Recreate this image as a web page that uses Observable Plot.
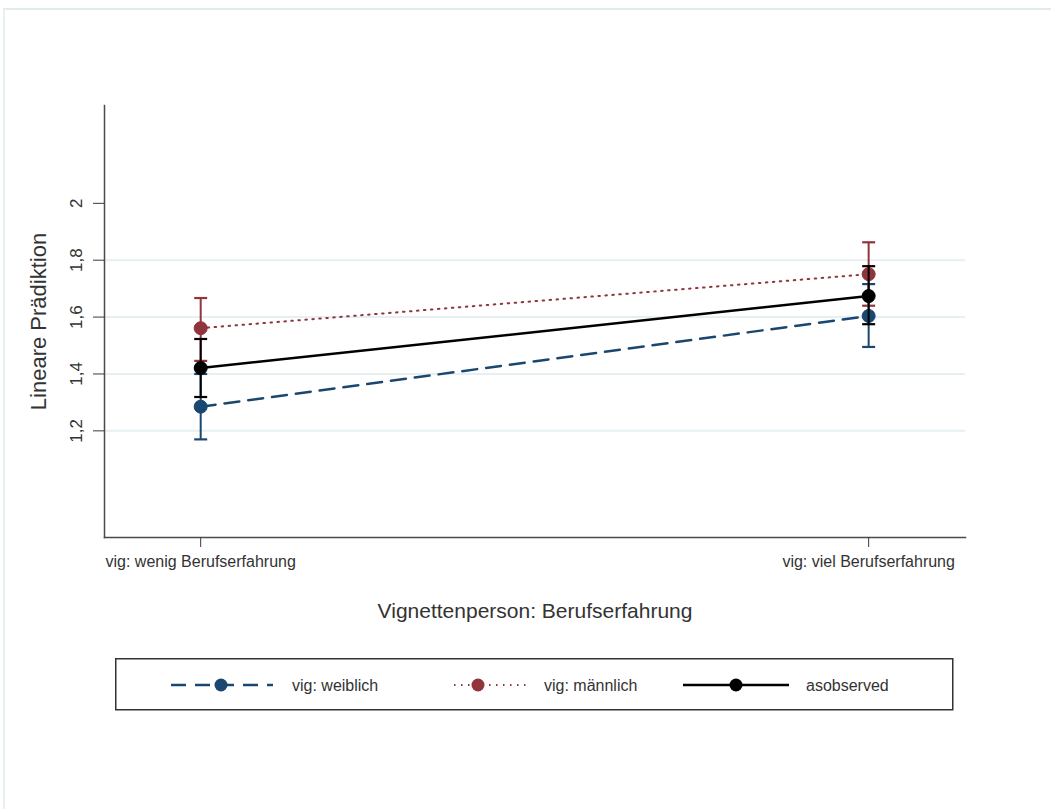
<!DOCTYPE html>
<html>
<head>
<meta charset="utf-8">
<script src="https://cdn.jsdelivr.net/npm/d3@7"></script>
<script src="https://cdn.jsdelivr.net/npm/@observablehq/plot@0.6"></script>
<style>
  body { margin: 0; background: #fff; font-family: "Liberation Sans", Arial, sans-serif; }
  #wrap { position: relative; width: 1051px; height: 809px; overflow: hidden; background: #fff; }
  #frame { position: absolute; left: 3px; top: 8px; width: 1200px; height: 1000px;
           border-top: 2px solid #e1ebeb; border-left: 2px solid #e8f0f0; }
  #chart { position: absolute; left: 0; top: 0; }
  #legend { position: absolute; left: 115px; top: 658px; }
</style>
</head>
<body>
<div id="wrap">
  <div id="frame"></div>
  <div id="chart"></div>
  <div id="legend"></div>
</div>
<script>
// ---- data ----
const categories = ["vig: wenig Berufserfahrung", "vig: viel Berufserfahrung"];
const seriesNames = ["vig: weiblich", "vig: männlich", "asobserved"];
const weiblich    = [1.285, 1.604];
const weiblichLo  = [1.170, 1.495];
const weiblichHi  = [1.400, 1.716];
const maennlich   = [1.561, 1.751];
const maennlichLo = [1.446, 1.640];
const maennlichHi = [1.667, 1.863];
const asobserved   = [1.421, 1.674];
const asobservedLo = [1.319, 1.575];
const asobservedHi = [1.523, 1.779];
const yTicks = [1.2, 1.4, 1.6, 1.8, 2];
const gridTicks = [1.2, 1.4, 1.6, 1.8];
const colors = ["#1a476f", "#90353b", "#000000"];

const seriesData = [
  [weiblich, weiblichLo, weiblichHi],
  [maennlich, maennlichLo, maennlichHi],
  [asobserved, asobservedLo, asobservedHi]
];
const rows = [];
seriesData.forEach(([v, lo, hi], s) => {
  categories.forEach((c, i) => rows.push({series: seriesNames[s], x: i, y: v[i], lo: lo[i], hi: hi[i]}));
});

const capSymbol = {
  draw(context, size) {
    const w = Math.sqrt(size / Math.PI);
    context.moveTo(-w, 0);
    context.lineTo(w, 0);
  }
};

const styles = [
  {stroke: colors[0], strokeWidth: 2.5, strokeDasharray: "15,9"},
  {stroke: colors[1], strokeWidth: 2, strokeDasharray: "1.5,5.5"},
  {stroke: colors[2], strokeWidth: 2.5}
];

const seriesMarks = seriesNames.flatMap((name, s) => {
  const d = rows.filter(r => r.series === name);
  const c = colors[s];
  return [
    Plot.line(d, {x: "x", y: "y", ...styles[s]}),
    Plot.ruleX(d, {x: "x", y1: "lo", y2: "hi", stroke: c, strokeWidth: 2}),
    Plot.dot(d, {x: "x", y: "lo", symbol: capSymbol, r: 6.5, stroke: c, strokeWidth: 2.2}),
    Plot.dot(d, {x: "x", y: "hi", symbol: capSymbol, r: 6.5, stroke: c, strokeWidth: 2.2}),
    Plot.dot(d, {x: "x", y: "y", r: 6.5, fill: c, stroke: c, strokeWidth: 1})
  ];
});

const chart = Plot.plot({
  width: 1051,
  height: 645,
  marginLeft: 104,
  marginRight: 86,
  marginTop: 105,
  marginBottom: 108,
  style: {fontFamily: '"Liberation Sans", Arial, sans-serif', background: "transparent"},
  x: {domain: [-0.144, 1.145]},
  y: {domain: [0.825, 2.344]},
  marks: [
    Plot.ruleY(gridTicks, {stroke: "#e6eff1", strokeWidth: 2}),
    Plot.frame({anchor: "left", stroke: "#4a4a4a", strokeWidth: 1.5}),
    Plot.frame({anchor: "bottom", stroke: "#4a4a4a", strokeWidth: 1.5}),
    Plot.axisY(yTicks, {
      tickFormat: d => String(d).replace(".", ","),
      tickRotate: -90, tickSize: 11, tickPadding: 12, fontSize: 17,
      stroke: "#3a3a3a", fill: "#333", label: null
    }),
    Plot.axisY({ticks: [], label: "Lineare Prädiktion", labelAnchor: "center", labelArrow: "none",
      labelOffset: 74, fontSize: 22, fill: "#333"}),
    Plot.axisX([0, 1], {
      tickFormat: i => categories[i], tickSize: 10, tickPadding: 8, fontSize: 16,
      stroke: "#3a3a3a", fill: "#333", label: null
    }),
    Plot.axisX({ticks: [], label: "Vignettenperson: Berufserfahrung", labelAnchor: "center", labelArrow: "none",
      labelOffset: 80, fontSize: 21, fill: "#333"}),
    ...seriesMarks
  ]
});
document.getElementById("chart").appendChild(chart);

// ---- legend ----
const legendItems = [
  {line: [56, 158], dot: 106, text: 177},
  {line: [339, 412], dot: 363, text: 429},
  {line: [568, 674], dot: 621, text: 691}
];
const lg = d3.select("#legend").append("svg").attr("width", 840).attr("height", 54)
  .style("font-family", '"Liberation Sans", Arial, sans-serif');
lg.append("rect").attr("x", 0.75).attr("y", 0.75).attr("width", 837).attr("height", 51)
  .attr("fill", "#fff").attr("stroke", "#333").attr("stroke-width", 1.5);
legendItems.forEach((it, s) => {
  const st = styles[s];
  lg.append("line").attr("x1", it.line[0]).attr("x2", it.line[1]).attr("y1", 27).attr("y2", 27)
    .attr("stroke", st.stroke).attr("stroke-width", st.strokeWidth)
    .attr("stroke-dasharray", st.strokeDasharray || null);
  lg.append("circle").attr("cx", it.dot).attr("cy", 27).attr("r", 6.5).attr("fill", colors[s]);
  lg.append("text").attr("x", it.text).attr("y", 27).attr("dy", "0.35em")
    .attr("font-size", 16).attr("fill", "#333").text(seriesNames[s]);
});
</script>
</body>
</html>
